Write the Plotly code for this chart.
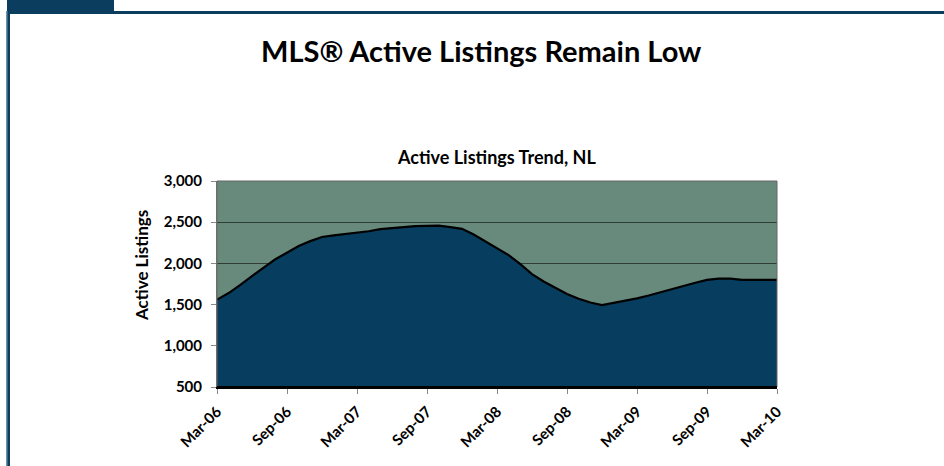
import plotly.graph_objects as go

months = ["Mar-06","Apr-06","May-06","Jun-06","Jul-06","Aug-06","Sep-06","Oct-06","Nov-06","Dec-06",
          "Jan-07","Feb-07","Mar-07","Apr-07","May-07","Jun-07","Jul-07","Aug-07","Sep-07","Oct-07","Nov-07","Dec-07",
          "Jan-08","Feb-08","Mar-08","Apr-08","May-08","Jun-08","Jul-08","Aug-08","Sep-08","Oct-08","Nov-08","Dec-08",
          "Jan-09","Feb-09","Mar-09","Apr-09","May-09","Jun-09","Jul-09","Aug-09","Sep-09","Oct-09","Nov-09","Dec-09",
          "Jan-10","Feb-10","Mar-10"]
listings = [1560, 1640, 1740, 1850, 1950, 2050, 2130, 2210, 2270, 2320,
            2340, 2355, 2370, 2390, 2415, 2430, 2445, 2452, 2456, 2458, 2440, 2420,
            2350, 2270, 2190, 2100, 1990, 1870, 1780, 1700, 1630, 1570, 1525, 1495,
            1520, 1550, 1575, 1610, 1650, 1690, 1725, 1765, 1800, 1815, 1815, 1800,
            1800, 1800, 1800]
tick_labels = ["Mar-06","Sep-06","Mar-07","Sep-07","Mar-08","Sep-08","Mar-09","Sep-09","Mar-10"]
y_ticks = [500, 1000, 1500, 2000, 2500, 3000]

FONT = "Lato"
fig = go.Figure()
fig.add_trace(go.Scatter(
    x=months, y=listings, mode="lines", fill="tozeroy",
    fillcolor="#073e5f", line=dict(color="#000000", width=2.2), hoverinfo="skip"))

W, H = 944, 466
L, R, T, B = 217, 777, 181, 387

def px(x):
    return (x - L) / (R - L)

def py(y):
    return (B - y) / (B - T)

shapes = [
    dict(type="rect", xref="paper", yref="paper", x0=px(7), x1=px(114), y0=py(11), y1=py(-2),
         fillcolor="#0b3d5f", line=dict(width=0), layer="above"),
    dict(type="rect", xref="paper", yref="paper", x0=px(7), x1=px(950), y0=py(14), y1=py(11),
         fillcolor="#0b3d5f", line=dict(width=0), layer="above"),
    dict(type="rect", xref="paper", yref="paper", x0=px(6), x1=px(10), y0=py(470), y1=py(11),
         fillcolor="#0b3d5f", line=dict(width=0), layer="above"),
    dict(type="rect", xref="paper", yref="paper", x0=px(6), x1=px(7.5), y0=py(470), y1=py(11),
         fillcolor="#6f8fa6", line=dict(width=0), layer="above"),
]

fig.update_layout(
    width=W, height=H,
    margin=dict(l=L, r=W - R, t=T, b=H - B),
    paper_bgcolor="white", plot_bgcolor="#688a7c",
    showlegend=False,
    shapes=shapes,
    font=dict(family=FONT, color="#000000"),
    annotations=[
        dict(text="<b>MLS® Active Listings Remain Low</b>", xref="paper", yref="paper",
             x=px(481), y=py(50), xanchor="center", yanchor="middle", showarrow=False,
             font=dict(size=29, family=FONT, color="#000")),
        dict(text="<b>Active Listings Trend, NL</b>", xref="paper", yref="paper",
             x=px(496), y=py(157), xanchor="center", yanchor="middle", showarrow=False,
             font=dict(size=18, family=FONT, color="#000")),
        dict(text="<b>Active Listings</b>", xref="paper", yref="paper",
             x=px(141), y=py(266), xanchor="center", yanchor="middle", showarrow=False, textangle=-90,
             font=dict(size=17, family=FONT, color="#000")),
    ],
)
fig.update_xaxes(
    type="category", range=[0, len(months) - 1],
    tickmode="array", tickvals=tick_labels, ticktext=["<b>%s</b>" % t for t in tick_labels],
    tickangle=-45, tickfont=dict(size=15, family=FONT, color="#000"),
    ticks="outside", ticklen=5, tickcolor="#888888", ticklabelstandoff=3,
    showgrid=False, showline=True, linecolor="#000000", linewidth=2, mirror=False, zeroline=False,
)
fig.update_yaxes(
    range=[500, 3000], tickmode="array", tickvals=y_ticks,
    ticktext=["<b>{:,}</b>".format(v) for v in y_ticks],
    tickfont=dict(size=15, family=FONT, color="#000"),
    ticks="outside", ticklen=5, tickcolor="#888888", ticklabelstandoff=6,
    showgrid=True, gridcolor="#2f3d36", gridwidth=1,
    showline=True, linecolor="#777777", linewidth=1, zeroline=False,
)
fig.add_shape(type="rect", xref="paper", yref="paper", x0=0, x1=1, y0=0, y1=1,
              line=dict(color="#666666", width=1), layer="above")
fig.add_shape(type="line", xref="paper", yref="paper", x0=0, x1=1, y0=0, y1=0,
              line=dict(color="#000000", width=2), layer="above")
fig.write_html("out.html")
